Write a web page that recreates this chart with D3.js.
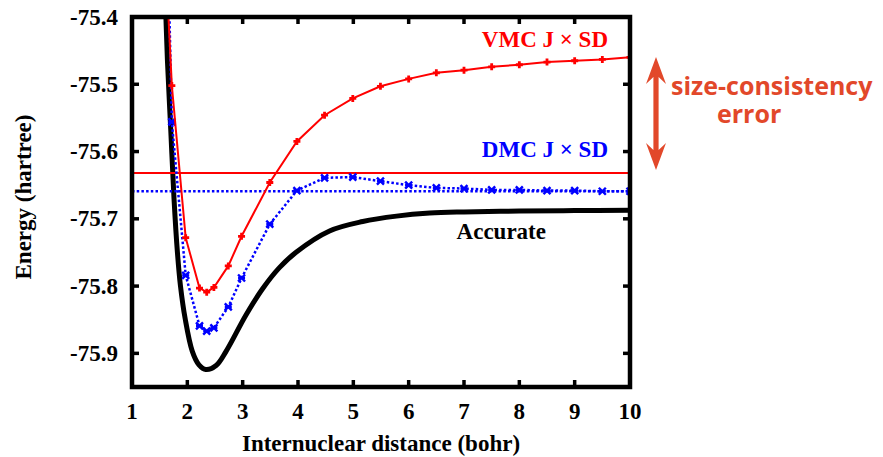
<!DOCTYPE html>
<html><head><meta charset="utf-8">
<script src="https://cdn.jsdelivr.net/npm/d3@7/dist/d3.min.js"></script>
<style>body{margin:0;background:#fff} svg{display:block}</style>
</head><body><svg id="c" width="883" height="457"></svg>
<script>
// ---- data ----
const xTicks = [1, 2, 3, 4, 5, 6, 7, 8, 9, 10];
const yTicks = [-75.4, -75.5, -75.6, -75.7, -75.8, -75.9];
const xTickLabels = ["1","2","3","4","5","6","7","8","9","10"];
const yTickLabels = ["-75.4","-75.5","-75.6","-75.7","-75.8","-75.9"];

const accX = [1.59, 1.64, 1.70, 1.76, 1.82, 1.875, 1.96, 2.09, 2.21, 2.335, 2.52, 2.70, 3.06, 3.36, 3.66, 3.96, 4.57, 5.17, 5.78, 6.38, 7.0, 8.0, 9.0, 10];
const accY = [-75.34, -75.464, -75.567, -75.671, -75.749, -75.799, -75.848, -75.897, -75.917, -75.924, -75.918, -75.897, -75.843, -75.804, -75.773, -75.750, -75.718, -75.704, -75.696, -75.6915, -75.6898, -75.6885, -75.6877, -75.6872];

const qmcX = [1.6, 1.72, 1.97, 2.22, 2.35, 2.48, 2.74, 2.98, 3.49, 3.98, 4.48, 4.99, 5.49, 6.0, 6.5, 7.0, 7.5, 8.0, 8.5, 9.0, 9.5, 10.0];
const vmcY = [-75.30, -75.502, -75.728, -75.803, -75.809, -75.802, -75.770, -75.726, -75.646, -75.585, -75.546, -75.521, -75.503, -75.492, -75.483, -75.479, -75.474, -75.471, -75.467, -75.465, -75.463, -75.460];
const dmcY = [-75.12, -75.556, -75.784, -75.859, -75.867, -75.862, -75.831, -75.788, -75.708, -75.658, -75.639, -75.638, -75.644, -75.650, -75.654, -75.655, -75.657, -75.657, -75.658, -75.658, -75.659, -75.659];

const vmcLimit = -75.632;   // separated atoms, VMC
const dmcLimit = -75.659;   // separated atoms, DMC

const labels = {vmc: "VMC J \u00d7 SD", dmc: "DMC J \u00d7 SD", acc: "Accurate"};
const xTitle = "Internuclear distance (bohr)";
const yTitle = "Energy (hartree)";
const noteLines = ["size-consistency", "error"];

// ---- layout ----
const L = 132, R = 630, T = 17, B = 387;
const x = d3.scaleLinear().domain([1, 10]).range([L, R]);
const y = d3.scaleLinear().domain([-75.95, -75.4]).range([B, T]);
const serif = "'Liberation Serif','Times New Roman',serif";
const RED = "#ff0000", BLUE = "#0000ff", ORANGE = "#e2482a";

const svg = d3.select("#c");
svg.append("rect").attr("width", 883).attr("height", 457).attr("fill", "#fff");

svg.append("defs").append("clipPath").attr("id", "clip")
  .append("rect").attr("x", L).attr("y", T).attr("width", R - L).attr("height", B - T);

const plot = svg.append("g").attr("clip-path", "url(#clip)");

const accData = accX.map((d, i) => [d, accY[i]]);
const vmcData = qmcX.map((d, i) => [d, vmcY[i]]);
const dmcData = qmcX.map((d, i) => [d, dmcY[i]]);

// accurate curve
plot.append("path").datum(accData)
  .attr("d", d3.line().x(d => x(d[0])).y(d => y(d[1])).curve(d3.curveCatmullRom.alpha(0.5)))
  .attr("fill", "none").attr("stroke", "#000").attr("stroke-width", 5).attr("stroke-linejoin", "round");

// horizontal limits
plot.append("line").attr("x1", L).attr("x2", R).attr("y1", y(dmcLimit)).attr("y2", y(dmcLimit))
  .attr("stroke", BLUE).attr("stroke-width", 2.5).attr("stroke-dasharray", "2.5,2.2");
plot.append("line").attr("x1", L).attr("x2", R).attr("y1", y(vmcLimit)).attr("y2", y(vmcLimit))
  .attr("stroke", RED).attr("stroke-width", 2);

// DMC
plot.append("path").datum(dmcData)
  .attr("d", d3.line().x(d => x(d[0])).y(d => y(d[1])))
  .attr("fill", "none").attr("stroke", BLUE).attr("stroke-width", 2.5).attr("stroke-dasharray", "2.5,2.2");
plot.selectAll(".dm").data(dmcData).join("path")
  .attr("transform", d => `translate(${x(d[0])},${y(d[1])})`)
  .attr("d", "M-3.5,-3.5L3.5,3.5M-3.5,3.5L3.5,-3.5M-3.5,0H3.5")
  .attr("stroke", BLUE).attr("stroke-width", 2.4).attr("fill", "none");

// VMC
plot.append("path").datum(vmcData)
  .attr("d", d3.line().x(d => x(d[0])).y(d => y(d[1])))
  .attr("fill", "none").attr("stroke", RED).attr("stroke-width", 2);
plot.selectAll(".vm").data(vmcData).join("path")
  .attr("transform", d => `translate(${x(d[0])},${y(d[1])})`)
  .attr("d", "M-3.5,0H3.5M0,-3.5V3.5")
  .attr("stroke", RED).attr("stroke-width", 2.8).attr("fill", "none");

// ---- frame & ticks ----
const frame = svg.append("g");
const tk = 7;
xTicks.forEach(t => {
  frame.append("line").attr("x1", x(t)).attr("x2", x(t)).attr("y1", B).attr("y2", B - tk).attr("stroke", "#000").attr("stroke-width", 3.5);
  frame.append("line").attr("x1", x(t)).attr("x2", x(t)).attr("y1", T).attr("y2", T + tk).attr("stroke", "#000").attr("stroke-width", 3.5);
});
yTicks.forEach(t => {
  frame.append("line").attr("x1", L).attr("x2", L + tk).attr("y1", y(t)).attr("y2", y(t)).attr("stroke", "#000").attr("stroke-width", 3.5);
  frame.append("line").attr("x1", R).attr("x2", R - tk).attr("y1", y(t)).attr("y2", y(t)).attr("stroke", "#000").attr("stroke-width", 3.5);
});
frame.append("rect").attr("x", L).attr("y", T).attr("width", R - L).attr("height", B - T)
  .attr("fill", "none").attr("stroke", "#000").attr("stroke-width", 4.5);

// tick labels
const tl = svg.append("g").attr("font-family", serif).attr("font-weight", "bold").attr("font-size", 23).attr("fill", "#000");
xTicks.forEach((t, i) => tl.append("text").attr("x", x(t)).attr("y", 419).attr("text-anchor", "middle").text(xTickLabels[i]));
yTicks.forEach((t, i) => tl.append("text").attr("x", 118).attr("y", y(t) + 7.5).attr("text-anchor", "end").text(yTickLabels[i]));

// axis titles
tl.append("text").attr("x", (L + R) / 2).attr("y", 451).attr("text-anchor", "middle").text(xTitle);
tl.append("text").attr("transform", "translate(31,197) rotate(-90)").attr("text-anchor", "middle").text(yTitle);

// series labels
tl.append("text").attr("x", 608).attr("y", 47).attr("text-anchor", "end").attr("fill", RED).text(labels.vmc);
tl.append("text").attr("x", 608).attr("y", 157).attr("text-anchor", "end").attr("fill", BLUE).text(labels.dmc);
tl.append("text").attr("x", 546).attr("y", 239).attr("text-anchor", "end").attr("fill", "#000").text(labels.acc);

// size-consistency arrow
const ax = 656, aTop = 57, aBot = 170;
const arrow = `M${ax},${aTop} L${ax+10},${aTop+27} L${ax+2.6},${aTop+20} L${ax+2.6},${aBot-20} L${ax+10},${aBot-27} L${ax},${aBot} L${ax-10},${aBot-27} L${ax-2.6},${aBot-20} L${ax-2.6},${aTop+20} L${ax-10},${aTop+27} Z`;
svg.append("path").attr("d", arrow).attr("fill", ORANGE);

const note = svg.append("g").attr("font-family", "'Open Sans',sans-serif").attr("font-weight", 700).attr("font-size", 25).attr("fill", ORANGE);
note.append("text").attr("x", 671).attr("y", 95).text(noteLines[0]);
note.append("text").attr("x", 717).attr("y", 123).text(noteLines[1]);
</script>
</body></html>
